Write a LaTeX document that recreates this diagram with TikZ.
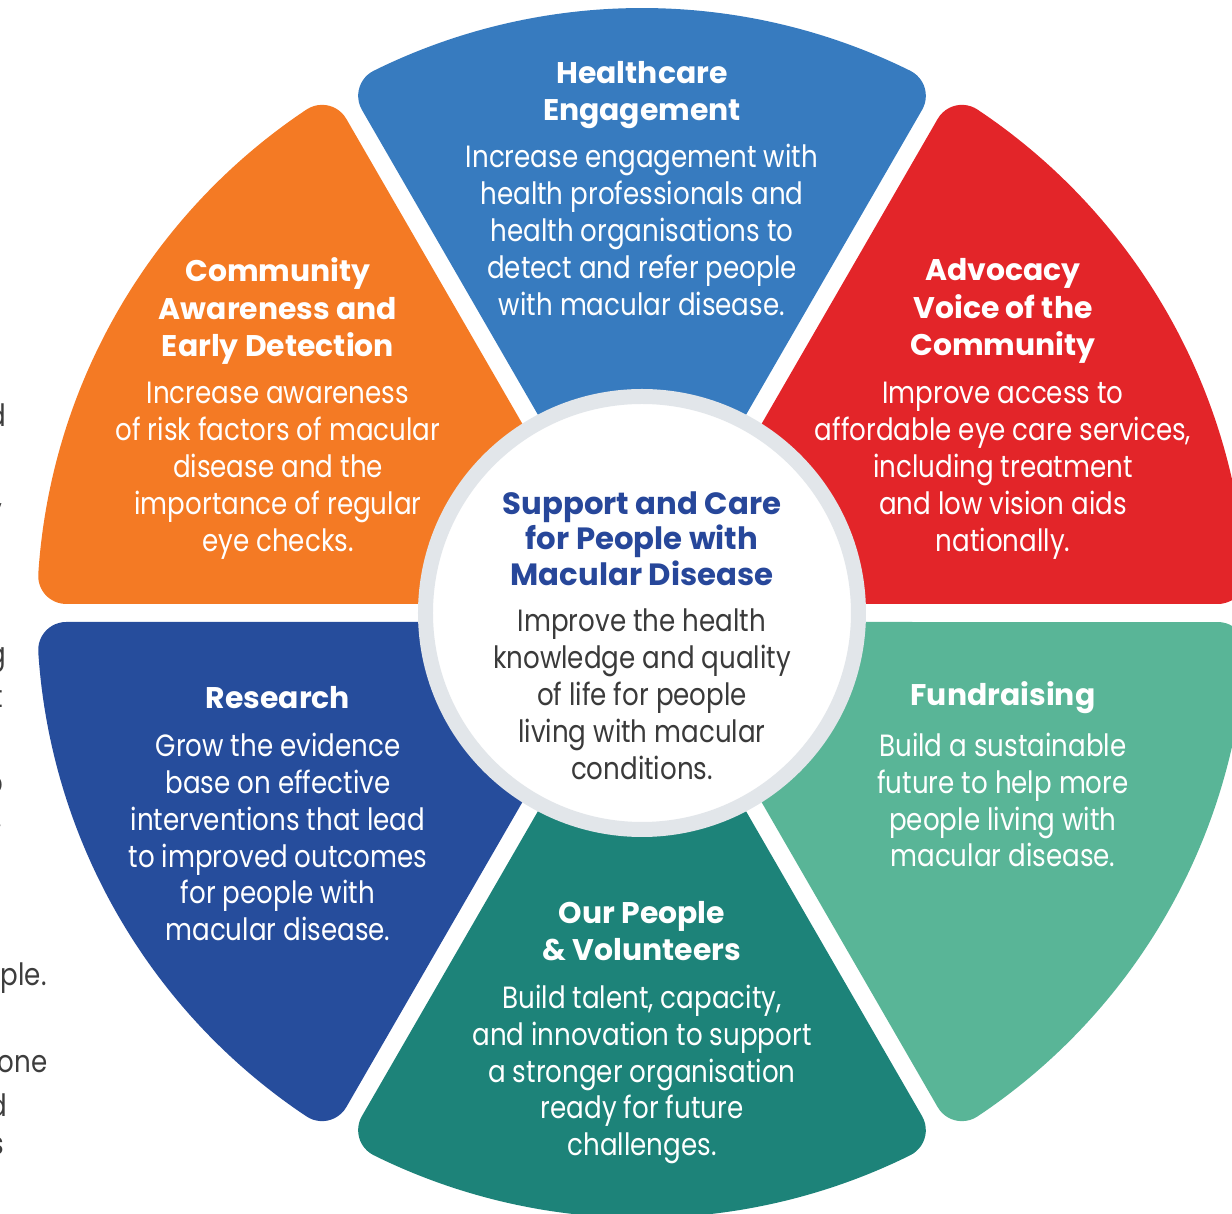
\documentclass[tikz,border=0pt]{standalone}
\usepackage{fontspec}
\setmainfont{Poppins}[FakeStretch=0.85]
\newfontfamily\headfont{Poppins}
\usetikzlibrary{positioning}
\definecolor{hcblue}{HTML}{377BBF}
\definecolor{advred}{HTML}{E32529}
\definecolor{fundgreen}{HTML}{59B597}
\definecolor{pplteal}{HTML}{1D8379}
\definecolor{resblue}{HTML}{264D9C}
\definecolor{comorange}{HTML}{F47A24}
\definecolor{ringgray}{HTML}{E2E6EA}
\definecolor{hubnavy}{HTML}{27479A}
\definecolor{hubgray}{HTML}{3A3A3A}
\definecolor{cutgray}{HTML}{3D3D3D}
\tikzset{wtitle/.style={text=white, align=center, inner sep=0pt, font=\headfont\bfseries\fontsize{17}{21.3}\selectfont}}
\tikzset{wtext/.style={text=white, align=center, inner sep=0pt, font=\fontsize{17.5}{21}\selectfont}}
\tikzset{hubtitle/.style={wtitle, text=hubnavy, font=\headfont\bfseries\fontsize{17.5}{20.2}\selectfont}}
\tikzset{hubtext/.style={wtext, text=hubgray}}
\tikzset{hub/.style={circle, fill=white, draw=ringgray, line width=3mm, minimum size=86.6mm, inner sep=0pt}}
\tikzset{cut/.style={anchor=east, inner sep=0pt, text=cutgray, font=\fontsize{17.5}{21}\selectfont}}

\begin{document}
\begin{tikzpicture}[x=0.2mm, y=0.2mm]
	\useasboundingbox (-642,-601) rectangle (590,613);
	\clip (-642,-601) rectangle (590,613);
%
	\foreach \ang/\col in {90/hcblue, 30/advred, -30/fundgreen, -90/pplteal, -150/resblue, 150/comorange}{
		\fill[\col, rotate=\ang-90] (90:18) -- (60.895:575.88)
			arc[start angle=-30, end angle=63.677, radius=28]
			arc[start angle=63.677, end angle=116.323, radius=605]
			arc[start angle=116.323, end angle=210, radius=28] -- cycle;
	}
	\node[hub] (hub) at (0,0) {};
%
	\node[wtitle] (hcT) at (0,518) {Healthcare\\Engagement};
	\node[wtext] (hcB) at (0,383) {Increase engagement with\\health professionals and\\health organisations to\\detect and refer people\\with macular disease.};
	\node[wtitle] (comT) at (-364,302) {Community\\Awareness and\\Early Detection};
	\node[wtext] (comB) at (-364,142.5) {Increase awareness\\of risk factors of macular\\disease and the\\importance of regular\\eye checks.};
	\node[wtitle] (advT) at (361,302) {Advocacy\\Voice of the\\Community};
	\node[wtext] (advB) at (361,142.5) {Improve access to\\affordable eye care services,\\including treatment\\and low vision aids\\nationally.};
	\node[hubtitle] (hubT) at (0,74.5) {Support and Care\\for People with\\Macular Disease};
	\node[hubtext] (hubB) at (0,-81) {Improve the health\\knowledge and quality\\of life for people\\living with macular\\conditions.};
	\node[wtitle] (resT) at (-364,-85) {Research};
	\node[wtext] (resB) at (-364,-224) {Grow the evidence\\base on effective\\interventions that lead\\to improved outcomes\\for people with\\macular disease.};
	\node[wtitle] (fundT) at (361,-85) {Fundraising};
	\node[wtext] (fundB) at (361,-187) {Build a sustainable\\future to help more\\people living with\\macular disease.};
	\node[wtitle] (pplT) at (0,-318) {Our People\\\& Volunteers};
	\node[wtext] (pplB) at (0,-461.5) {Build talent, capacity,\\and innovation to support\\a stronger organisation\\ready for future\\challenges.};
%
	% cut-off column at the left edge
	\node[cut] (c1) at (-635,198) {d};
	\node[cut] (c2) at (-639,105) {,};
	\node[cut] (c3) at (-635,-47) {g};
	\node[cut] (c4) at (-639,-84) {t};
	\node[cut] (c5) at (-638,-172) {o};
	\node[cut] (c6) at (-640,-213) {.};
	\node[cut] (c7) at (-595,-365) {ple.};
	\node[cut] (c8) at (-594,-451) {one};
	\node[cut] (c9) at (-634,-492) {d};
	\node[cut] (c10) at (-637,-533) {s};
\end{tikzpicture}
\end{document}
